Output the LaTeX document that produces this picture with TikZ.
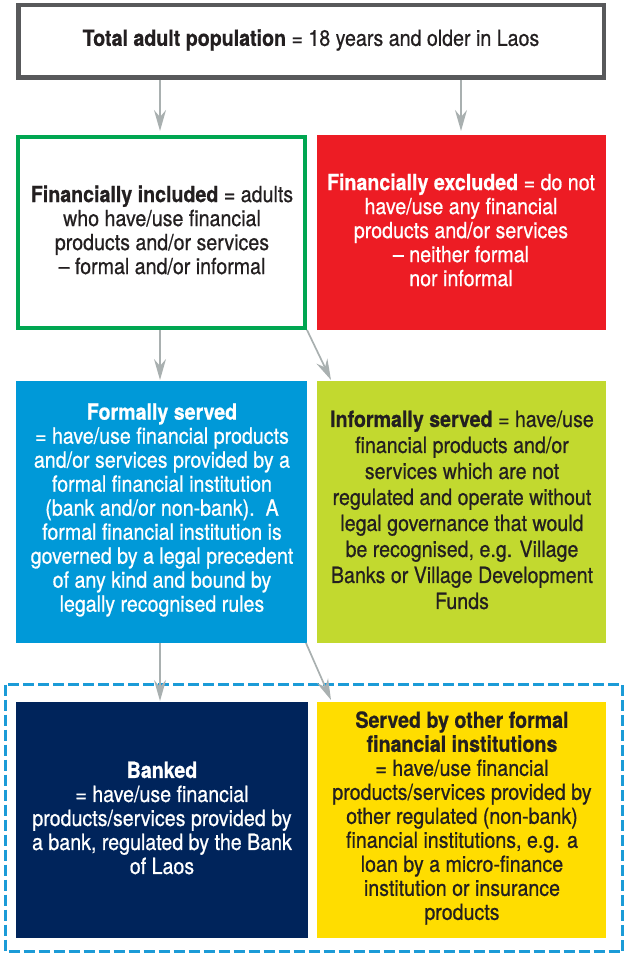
\documentclass[tikz,border=0pt]{standalone}
\usepackage{fontspec}
\setmainfont{TeX Gyre Heros}[FakeStretch=0.88,UprightFeatures={FakeBold=0.6},BoldFeatures={FakeBold=0.6}]
\usetikzlibrary{arrows.meta}
\definecolor{txtdark}{HTML}{231F20}
\definecolor{topgray}{HTML}{58595B}
\definecolor{incgreen}{HTML}{00A651}
\definecolor{excred}{HTML}{ED1C24}
\definecolor{formblue}{HTML}{0099D8}
\definecolor{inflime}{HTML}{C2D92F}
\definecolor{banknavy}{HTML}{00245B}
\definecolor{othyellow}{HTML}{FFDD00}
\definecolor{arrgray}{HTML}{A9B0B0}
\definecolor{dashblue}{HTML}{1B9BD7}
\tikzset{
  x=1pt,y=-1pt,
  boxtext/.style={align=center,font=\fontsize{22.3}{24}\selectfont,inner sep=0pt},
  conn/.style={draw=arrgray,line width=1.7pt,-{Stealth[length=21pt,width=12pt,inset=7pt]}},
}
\begin{document}
\begin{tikzpicture}
\useasboundingbox (0,0) rectangle (626,955);
% boxes
\draw[topgray,line width=4.5pt,fill=white] (18.25,5.25) rectangle (603.75,77.75);
\draw[incgreen,line width=4pt,fill=white] (18,137) rectangle (305,328);
\fill[excred] (317,135) rectangle (606,330);
\fill[formblue] (16,381) rectangle (307,643);
\fill[inflime] (317,381) rectangle (606,643);
\draw[dashblue,line width=3pt,dash pattern=on 11pt off 4pt] (5.5,684.5) rectangle (622.5,951.5);
\fill[banknavy] (16,702) rectangle (308,938);
\fill[othyellow] (317,702) rectangle (606,938);
% anchors
\coordinate (topL) at (160,80);
\coordinate (topR) at (461,80);
\coordinate (incL) at (160,330);
\coordinate (incR) at (307,330);
\coordinate (forL) at (160,643);
\coordinate (forR) at (306,643);
\coordinate (incT) at (160,131);
\coordinate (excT) at (461,131);
\coordinate (forT) at (160,380);
\coordinate (infT) at (331,380);
\coordinate (banT) at (160,701);
\coordinate (othT) at (331,700);
% texts
\node[boxtext,text=txtdark] (total) at (311,40) {\textbf{Total adult population} = 18 years and older in Laos};
\node[boxtext,text=txtdark] (incl) at (162,230) {\textbf{Financially included} = adults\\who have/use financial\\products and/or services\\– formal and/or informal};
\node[boxtext,text=white] (excl) at (461,230) {\textbf{Financially excluded} = do not\\have/use any financial\\products and/or services\\– neither formal\\nor informal};
\node[boxtext,text=white] (formal) at (162,510) {\textbf{Formally served}\\= have/use financial products\\and/or services provided by a\\formal financial institution\\(bank and/or non-bank).\ \ A\\formal financial institution is\\governed by a legal precedent\\of any kind and bound by\\legally recognised rules};
\node[boxtext,text=txtdark,font=\fontsize{22.3}{26}\selectfont] (informal) at (462,510) {\textbf{Informally served} = have/use\\financial products and/or\\services which are not\\regulated and operate without\\legal governance that would\\be recognised, e.g. Village\\Banks or Village Development\\Funds};
\node[boxtext,text=white] (banked) at (162,818) {\textbf{Banked}\\= have/use financial\\products/services provided by\\a bank, regulated by the Bank\\of Laos};
\node[boxtext,text=txtdark] (other) at (462,818) {\textbf{Served by other formal}\\\textbf{financial institutions}\\= have/use financial\\products/services provided by\\other regulated (non-bank)\\financial institutions, e.g. a\\loan by a micro-finance\\institution or insurance\\products};
% connectors
\draw[conn] (topL) -- (incT);
\draw[conn] (topR) -- (excT);
\draw[conn] (incL) -- (forT);
\draw[conn] (incR) -- (infT);
\draw[conn] (forL) -- (banT);
\draw[conn] (forR) -- (othT);
\end{tikzpicture}
\end{document}
